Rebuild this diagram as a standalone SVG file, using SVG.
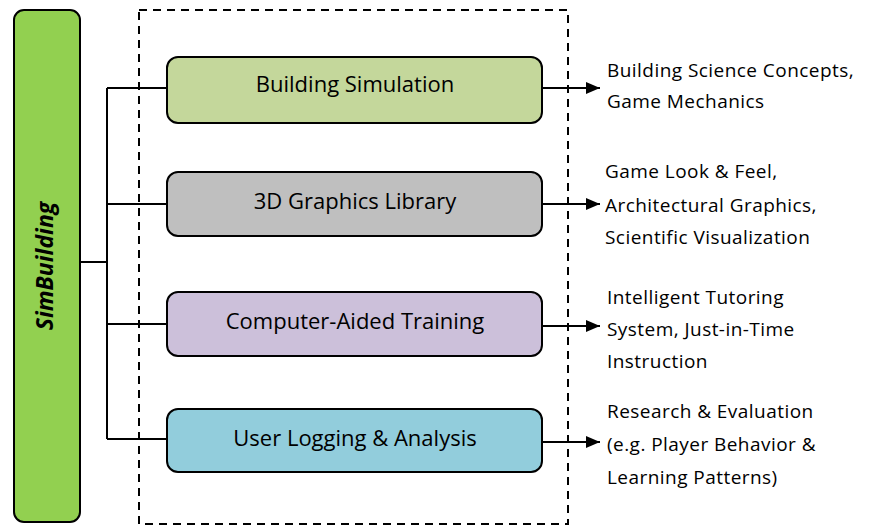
<svg xmlns="http://www.w3.org/2000/svg" width="870" height="529" viewBox="0 0 870 529">
<defs>
<style>
.box{stroke:#000;stroke-width:2}
.lbl{font-family:"Open Sans","Liberation Sans",sans-serif;font-size:22px;fill:#000;text-anchor:middle}
.out{font-family:"Open Sans","Liberation Sans",sans-serif;font-size:19px;letter-spacing:0.45px;fill:#000}
.conn{stroke:#000;stroke-width:2;fill:none}
</style>
<marker id="arr" markerWidth="14" markerHeight="12" refX="14" refY="6" orient="auto" markerUnits="userSpaceOnUse">
<path d="M0,0 L14,6 L0,12 Z" fill="#000"/>
</marker>
</defs>
<rect width="870" height="529" fill="#fff"/>
<g id="frame">
<rect x="139" y="10" width="429" height="514" fill="none" stroke="#000" stroke-width="2" stroke-dasharray="8,6"/>
</g>
<g id="simbuilding">
<rect class="box" x="14" y="10" width="66" height="512" rx="10" fill="#92D050"/>
<text transform="translate(53,266) rotate(-90)" font-family="'Open Sans','Liberation Sans',sans-serif" font-size="23" font-weight="bold" font-style="italic" text-anchor="middle">SimBuilding</text>
</g>
<g id="connectors">
<path class="conn" d="M80,262 H107 M107,88 V439 M107,88 H167 M107,204 H167 M107,324 H167 M107,439 H167"/>
<path class="conn" d="M542,88 H600" marker-end="url(#arr)"/>
<path class="conn" d="M542,204 H600" marker-end="url(#arr)"/>
<path class="conn" d="M542,326 H600" marker-end="url(#arr)"/>
<path class="conn" d="M542,442 H600" marker-end="url(#arr)"/>
</g>
<g id="building-simulation">
<rect class="box" x="167" y="57" width="375" height="66" rx="11" fill="#C4D79B"/>
<text class="lbl" x="355" y="92">Building Simulation</text>
</g>
<g id="graphics-library">
<rect class="box" x="167" y="172" width="375" height="64" rx="11" fill="#BFBFBF"/>
<text class="lbl" x="355" y="209">3D Graphics Library</text>
</g>
<g id="computer-aided-training">
<rect class="box" x="167" y="292" width="375" height="64" rx="11" fill="#CCC0DA"/>
<text class="lbl" x="355" y="329">Computer-Aided Training</text>
</g>
<g id="user-logging">
<rect class="box" x="167" y="409" width="375" height="63" rx="11" fill="#92CDDC"/>
<text class="lbl" x="355" y="446">User Logging &amp; Analysis</text>
</g>
<g id="outputs">
<text class="out" x="607" y="77">Building Science Concepts,</text>
<text class="out" x="607" y="108">Game Mechanics</text>
<text class="out" x="605" y="178">Game Look &amp; Feel,</text>
<text class="out" x="605" y="212">Architectural Graphics,</text>
<text class="out" x="605" y="244">Scientific Visualization</text>
<text class="out" x="607" y="304">Intelligent Tutoring</text>
<text class="out" x="607" y="336">System, Just-in-Time</text>
<text class="out" x="607" y="368">Instruction</text>
<text class="out" x="607" y="418">Research &amp; Evaluation</text>
<text class="out" x="607" y="451">(e.g. Player Behavior &amp;</text>
<text class="out" x="607" y="484">Learning Patterns)</text>
</g>
</svg>
